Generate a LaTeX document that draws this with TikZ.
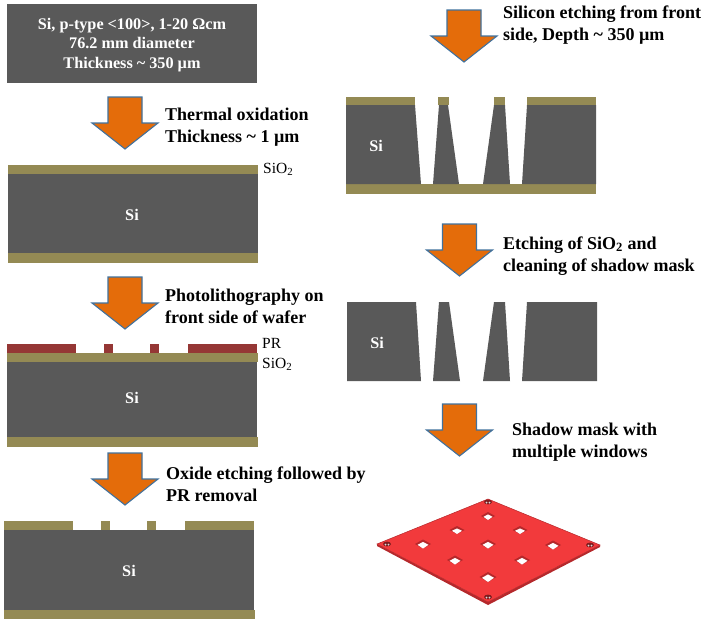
\documentclass[tikz,border=0pt]{standalone}
\usepackage{fontspec}
\setmainfont{Liberation Serif}
\usetikzlibrary{positioning}

\begin{document}
\begin{tikzpicture}[
        x=1pt,y=-1pt,
    every node/.style={inner sep=0pt},
    stepnote/.style={anchor=west,align=left,font=\fontsize{18}{22}\selectfont\bfseries},
    silabel/.style={text=white,align=center,font=\fontsize{16.2}{19.5}\selectfont\bfseries},
    layernote/.style={anchor=west,font=\fontsize{15.5}{15}\selectfont},
    downarrow/.style={fill=arrowfill,draw=arrowline,line width=1.1pt,line join=miter}
]
\definecolor{sicol}{HTML}{595959}
\definecolor{oxcol}{HTML}{948A54}
\definecolor{prcol}{HTML}{953735}
\definecolor{arrowfill}{HTML}{E46C0A}
\definecolor{arrowline}{HTML}{41719C}
\definecolor{platecol}{HTML}{F23A3C}
\definecolor{plateedge}{HTML}{B5282B}

    \useasboundingbox (0,0) rectangle (708,625);

    % process arrows
    \foreach \x/\y in {125/97,125/277,125/453,464/10,459.5/224,459.5/404}{
        \draw [downarrow] (\x-17,\y) -- (\x+17,\y) -- (\x+17,\y+26) -- (\x+33,\y+26)
            -- (\x,\y+52) -- (\x-33,\y+26) -- (\x-17,\y+26) -- cycle;
    }

    % starting wafer
    \fill [sicol] (7,4) rectangle (257,83);
    \node [silabel] (start) at (132,45) {Si, p-type <100>, 1-20 Ωcm\\76.2 mm diameter\\Thickness \textasciitilde{} 350 µm};
    \node [stepnote] (thermal) at (165,127) {Thermal oxidation\\Thickness \textasciitilde{} 1 µm};

    % oxidised wafer
    \fill [oxcol] (8,165) rectangle (258,174);
    \fill [sicol] (8,174) rectangle (258,253);
    \fill [oxcol] (8,253) rectangle (258,263);
    \node [silabel] (si1) at (132,215) {Si};
    \node [layernote] (ox1) at (263,169) {SiO\textsubscript{2}};
    \node [stepnote] (litho) at (165,306) {Photolithography on\\front side of wafer};

    % wafer with resist
    \foreach \a/\b in {7/76,104/113,150/159,188/257}{
        \fill [prcol] (\a,344) rectangle (\b,353);
    }
    \fill [oxcol] (7,353) rectangle (258,362);
    \fill [sicol] (7,362) rectangle (257,437);
    \fill [oxcol] (7,437) rectangle (258,447);
    \node [silabel] (si2) at (132,398) {Si};
    \node [layernote] (pr) at (262,343) {PR};
    \node [layernote] (ox2) at (262,364) {SiO\textsubscript{2}};
    \node [stepnote] (oxide) at (166,484) {Oxide etching followed by\\PR removal};

    % wafer after oxide etch
    \foreach \a/\b in {4/73,101/110,147/156,185/254}{
        \fill [oxcol] (\a,521) rectangle (\b,530);
    }
    \fill [sicol] (4,530) rectangle (254,610);
    \fill [oxcol] (4,610) rectangle (255,619);
    \node [silabel] (si3) at (129,571) {Si};
    \node [stepnote] (front) at (503,25) {Silicon etching from front\\side, Depth \textasciitilde{} 350 µm};

    % wafer after silicon etch
    \foreach \a/\b in {346/415,438/449,494/505,527/596}{
        \fill [oxcol] (\a,97) rectangle (\b,105);
    }
    \fill [oxcol] (346,184) rectangle (596,194);
    \fill [sicol] (346,105) -- (415,105) -- (421,184) -- (346,184) -- cycle;
    \fill [sicol] (439,105) -- (448,105) -- (459,184) -- (433,184) -- cycle;
    \fill [sicol] (494,105) -- (505,105) -- (510,184) -- (483,184) -- cycle;
    \fill [sicol] (527,105) -- (596,105) -- (596,184) -- (522,184) -- cycle;
    \node [silabel] (si4) at (376,146) {Si};
    \node [stepnote] (clean) at (503,256) {Etching of SiO\textsubscript{2} and\\cleaning of shadow mask};

    % bare mask section
    \fill [sicol] (347,302) -- (416,302) -- (421,381) -- (347,381) -- cycle;
    \fill [sicol] (439,302) -- (449,302) -- (460,381) -- (433,381) -- cycle;
    \fill [sicol] (494,302) -- (505,302) -- (510,381) -- (483,381) -- cycle;
    \fill [sicol] (527,302) -- (597,302) -- (597,381) -- (522,381) -- cycle;
    \node [silabel] (si5) at (377,343) {Si};
    \node [stepnote] (mask) at (512,442) {Shadow mask with\\multiple windows};

    % finished plate
    \fill [plateedge] (377,544) -- (488,602) -- (600,545) -- (600,547) -- (488,605) -- (377,546) -- cycle;
    \fill [platecol] (488,499) -- (600,545) -- (488,602) -- (377,544) -- cycle;
    \draw [plateedge,line width=.5pt] (488,499) -- (600,545) -- (488,602) -- (377,544) -- cycle;
    \foreach \x/\y/\w/\h in {488/516/7/4,457/530/7.5/4,520/530/7.5/4,423/544/8/4.5,488/544/8/4.5,553/545/8/4.5,455/560/8/4.5,522/560/8/4.5,488/577/8.5/5}{
        \fill [plateedge] (\x-\w,\y) -- (\x,\y-\h) -- (\x+\w,\y) -- (\x,\y+\h) -- cycle;
        \fill [white] (\x-\w+2.5,\y+.8) -- (\x,\y-\h+2.4) -- (\x+\w-2.5,\y+.8) -- (\x,\y+\h) -- cycle;
    }
    \foreach \x/\y in {488/502,387/544,590/545,488/597}{
        \fill [plateedge!70!black] (\x,\y) ellipse [x radius=4,y radius=2.4];
        \fill [white!85!black] (\x-1.5,\y+.5) circle [radius=1];
        \fill [white!85!black] (\x+1.5,\y+.5) circle [radius=1];
    }
  \end{tikzpicture}
\end{document}
